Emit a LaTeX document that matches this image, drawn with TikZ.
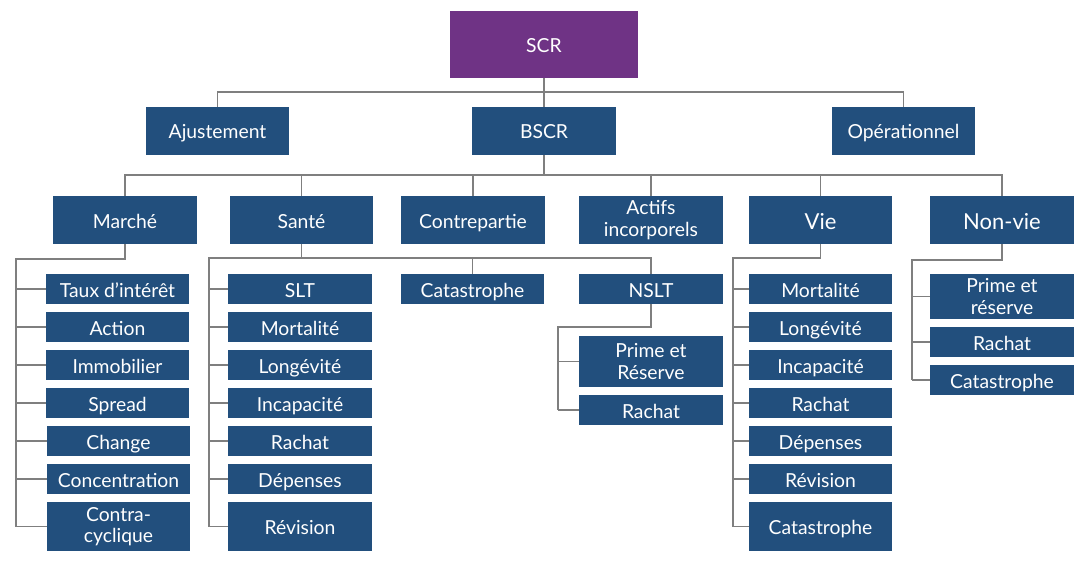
\documentclass[tikz,border=0pt]{standalone}
\usepackage{fontspec}
\setmainfont{Lato}
\definecolor{boxblue}{HTML}{224F7D}
\definecolor{boxpurple}{HTML}{6F3385}
\definecolor{linegray}{HTML}{7F7F7F}
% \bx[style]{name}{x1}{y1}{x2}{y2}{text}
\newcommand\bx[7][onebox]{%
  \node[#1,minimum width={(#5-#3)*0.75pt},minimum height={(#6-#4)*0.75pt}]
    (#2) at ({(#3+#5)/2},{(#4+#6)/2}) {#7};}
\begin{document}
\begin{tikzpicture}[x=0.75pt,y=-0.75pt,
  box/.style={rectangle,fill=boxblue,draw=none,inner sep=0pt,outer sep=0pt,text=white,align=center,
    font=\fontsize{14.5}{16}\selectfont},
  onebox/.style={box,text height=12pt,text depth=0pt},
  bigbox/.style={box,text height=13.5pt,text depth=0pt,font=\fontsize{16.5}{18}\selectfont},
  topbox/.style={onebox,fill=boxpurple},
  conn/.style={draw=linegray,line width=1.1pt}]
\useasboundingbox (0,0) rectangle (1088,574);
% level 0 and 1
\bx[topbox]{scr}{450}{11}{638}{78}{SCR}
\bx{aj}{146}{107}{289}{155}{Ajustement}
\bx{bscr}{472}{107}{616}{155}{BSCR}
\bx{op}{832}{107}{975}{155}{Opérationnel}
% level 2
\bx{marche}{53}{196}{197}{244}{Marché}
\bx{sante}{230}{196}{373}{244}{Santé}
\bx{contre}{401}{196}{545}{244}{Contrepartie}
\bx[box]{actifs}{579}{196}{723}{244}{Actifs\\incorporels}
\bx[bigbox]{vie}{749}{196}{892}{244}{Vie}
\bx[bigbox]{nonvie}{930}{196}{1074}{244}{Non-vie}
% Marche children
\bx{m1}{46}{274}{189}{304}{Taux d'intérêt}
\bx{m2}{46}{312}{189}{342}{Action}
\bx{m3}{46}{350}{189}{380}{Immobilier}
\bx{m4}{46}{388}{189}{418}{Spread}
\bx{m5}{47}{426}{190}{456}{Change}
\bx{m6}{47}{464}{190}{494}{Concentration}
\bx[box]{m7}{47}{502}{190}{551}{Contra-\\cyclique}
% Sante children
\bx{s1}{228}{274}{372}{304}{SLT}
\bx{s2}{228}{312}{372}{342}{Mortalité}
\bx{s3}{228}{350}{372}{380}{Longévité}
\bx{s4}{228}{388}{372}{418}{Incapacité}
\bx{s5}{228}{426}{372}{456}{Rachat}
\bx{s6}{228}{464}{372}{494}{Dépenses}
\bx{s7}{228}{502}{372}{551}{Révision}
\bx{scat}{401}{274}{544}{304}{Catastrophe}
\bx{nslt}{579}{274}{723}{304}{NSLT}
\bx[box]{n1}{579}{336}{723}{387}{Prime et\\Réserve}
\bx{n2}{579}{395}{723}{425}{Rachat}
% Vie children
\bx{v1}{749}{274}{892}{304}{Mortalité}
\bx{v2}{749}{312}{892}{342}{Longévité}
\bx{v3}{749}{350}{892}{380}{Incapacité}
\bx{v4}{749}{388}{892}{418}{Rachat}
\bx{v5}{749}{426}{892}{456}{Dépenses}
\bx{v6}{749}{464}{892}{494}{Révision}
\bx{v7}{749}{502}{892}{551}{Catastrophe}
% Non-vie children
\bx[box]{nv1}{930}{274}{1074}{319}{Prime et\\réserve}
\bx{nv2}{930}{327}{1074}{357}{Rachat}
\bx{nv3}{930}{365}{1074}{395}{Catastrophe}
% bus coordinates
\coordinate (bus1) at (0,92);
\coordinate (bus2) at (0,175);
\coordinate (mt) at (16,259);
\coordinate (st) at (209,258);
\coordinate (nt) at (558,327);
\coordinate (vt) at (733,258);
\coordinate (nvt) at (912,260);
% top connectors
\draw[conn] (scr.south) -- (bscr.north);
\draw[conn] (aj.north) -- (aj.north |- bus1) -- (op.north |- bus1) -- (op.north);
% level 2 connectors
\draw[conn] (bscr.south) -- (bscr.south |- bus2);
\draw[conn] (marche.north) -- (marche.north |- bus2) -- (nonvie.north |- bus2) -- (nonvie.north);
\foreach \n in {sante,contre,actifs,vie}
  \draw[conn] (\n.north |- bus2) -- (\n.north);
% Marche
\draw[conn] (marche.south) |- (mt) -- (mt |- m7.west);
\foreach \n in {m1,m2,m3,m4,m5,m6,m7}
  \draw[conn] (mt |- \n.west) -- (\n.west);
% Sante
\draw[conn] (sante.south) -- (sante.south |- st);
\draw[conn] (st |- s7.west) -- (st) -| (nslt.north);
\draw[conn] (scat.north |- st) -- (scat.north);
\foreach \n in {s1,s2,s3,s4,s5,s6,s7}
  \draw[conn] (st |- \n.west) -- (\n.west);
% NSLT
\draw[conn] (nslt.south) |- (nt) -- (nt |- n2.west);
\foreach \n in {n1,n2}
  \draw[conn] (nt |- \n.west) -- (\n.west);
% Vie
\draw[conn] (vie.south) |- (vt) -- (vt |- v7.west);
\foreach \n in {v1,v2,v3,v4,v5,v6,v7}
  \draw[conn] (vt |- \n.west) -- (\n.west);
% Non-vie
\draw[conn] (nonvie.south) |- (nvt) -- (nvt |- nv3.west);
\foreach \n in {nv1,nv2,nv3}
  \draw[conn] (nvt |- \n.west) -- (\n.west);
\end{tikzpicture}
\end{document}
